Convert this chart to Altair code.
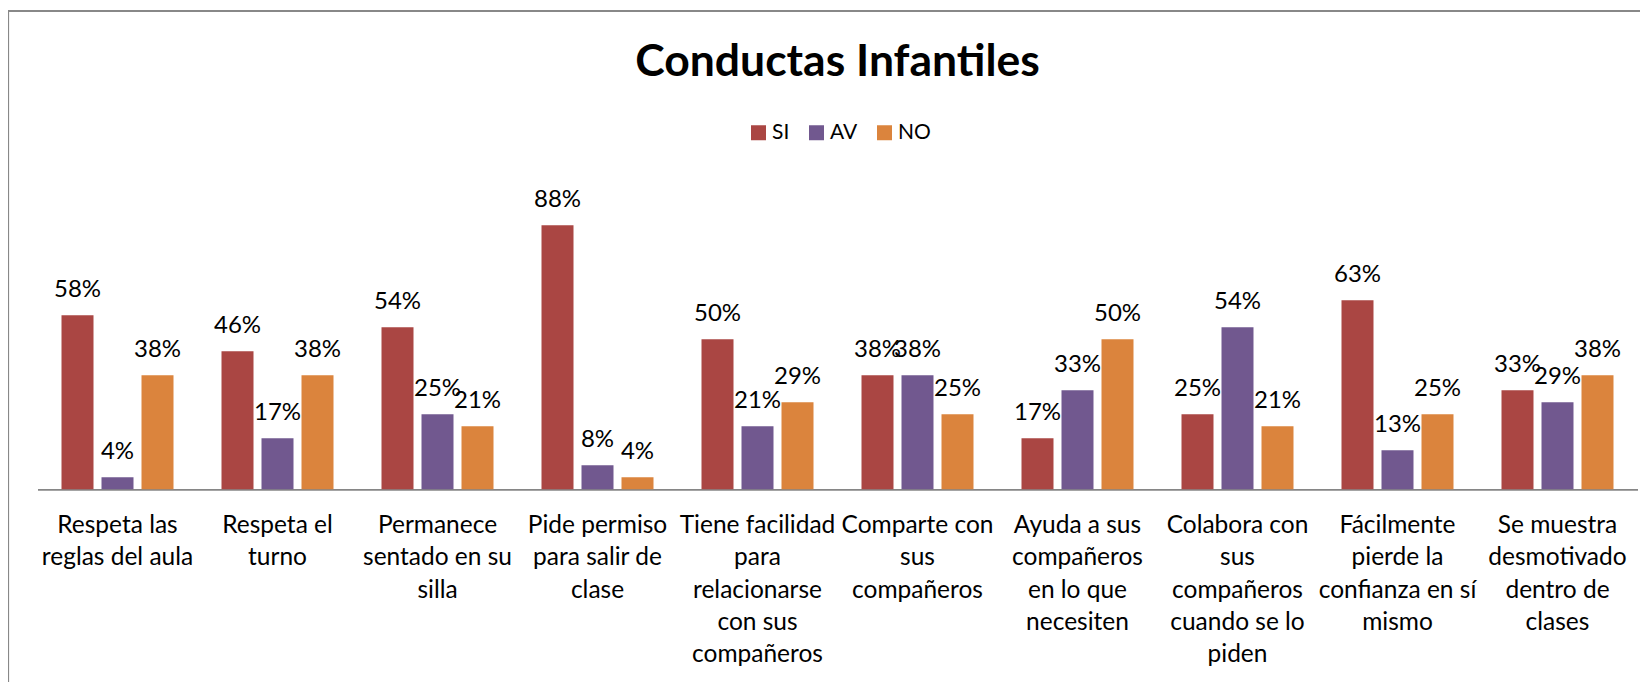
import altair as alt
import pandas as pd

categories = [
    "Respeta las\nreglas del aula",
    "Respeta el\nturno",
    "Permanece\nsentado en su\nsilla",
    "Pide permiso\npara salir de\nclase",
    "Tiene facilidad\npara\nrelacionarse\ncon sus\ncompañeros",
    "Comparte con\nsus\ncompañeros",
    "Ayuda a sus\ncompañeros\nen lo que\nnecesiten",
    "Colabora con\nsus\ncompañeros\ncuando se lo\npiden",
    "Fácilmente\npierde la\nconfianza en sí\nmismo",
    "Se muestra\ndesmotivado\ndentro de\nclases",
]
series = ["SI", "AV", "NO"]
si_values = [58, 46, 54, 88, 50, 38, 17, 25, 63, 33]
av_values = [4, 17, 25, 8, 21, 38, 33, 54, 13, 29]
no_values = [38, 38, 21, 4, 29, 25, 50, 21, 25, 38]
colors = ["#AA4643", "#71588F", "#DB843D"]

rows = []
for i, cat in enumerate(categories):
    for s, vals in zip(series, [si_values, av_values, no_values]):
        rows.append({"cat": cat, "serie": s, "val": vals[i]})
df = pd.DataFrame(rows)

FONT = "Lato"

base = alt.Chart(df).encode(
    x=alt.X(
        "cat:N",
        sort=categories,
        scale=alt.Scale(paddingInner=0.3, paddingOuter=0.15),
        axis=alt.Axis(
            title=None,
            labelExpr="split(datum.label, '\\n')",
            labelFont=FONT,
            labelFontSize=24.5,
            labelColor="#000000",
            labelLineHeight=32.3,
            labelPadding=24.4,
            labelBaseline="top",
            labelAngle=0,
            labelOverlap=False,
            labelLimit=400,
            ticks=False,
            tickSize=0,
            domainColor="#868686",
            domainWidth=1.8,
            grid=False,
        ),
    ),
    xOffset=alt.XOffset(
        "serie:N", sort=series, scale=alt.Scale(paddingInner=0.2, paddingOuter=0)
    ),
    y=alt.Y("val:Q", scale=alt.Scale(domain=[0, 100], nice=False), axis=None),
)

bars = base.mark_bar().encode(
    color=alt.Color(
        "serie:N",
        sort=series,
        scale=alt.Scale(domain=series, range=colors),
        legend=alt.Legend(
            title=None,
            orient="none",
            legendX=710.5,
            legendY=-67.3,
            direction="horizontal",
            symbolType="square",
            symbolSize=225,
            symbolStrokeWidth=0,
            labelFont=FONT,
            labelFontSize=21,
            labelColor="#000000",
            labelOffset=3,
            columnPadding=16,
            padding=0,
        ),
    )
)

labels = base.mark_text(
    baseline="alphabetic", align="center", dy=-18.5, font=FONT, fontSize=24, color="#000000"
).transform_calculate(lbl="datum.val + '%'").encode(text="lbl:N")

frame = alt.Chart(pd.DataFrame({"f": [0]})).mark_rect(
    filled=False, stroke="#888888", strokeWidth=1.8
).encode(
    x=alt.value(-29.3), y=alt.value(-178.3), x2=alt.value(1700), y2=alt.value(700)
)

chart = (
    alt.layer(frame, bars, labels)
    .properties(
        width=1600,
        height=300,
        background="white",
        autosize=alt.AutoSizeParams(type="none"),
        padding={"left": 29.5, "top": 181.3, "right": 2, "bottom": 193},
        title=alt.Title(
            "Conductas Infantiles",
            font=FONT,
            fontSize=44.5,
            fontWeight="bold",
            color="#000000",
            anchor="middle",
            frame="group",
            baseline="alphabetic",
            offset=0,
            dy=110.5,
        ),
    )
    .configure_view(strokeWidth=0, stroke="transparent")
)

chart.save("out.html", embed_options={"renderer": "svg", "actions": False})
